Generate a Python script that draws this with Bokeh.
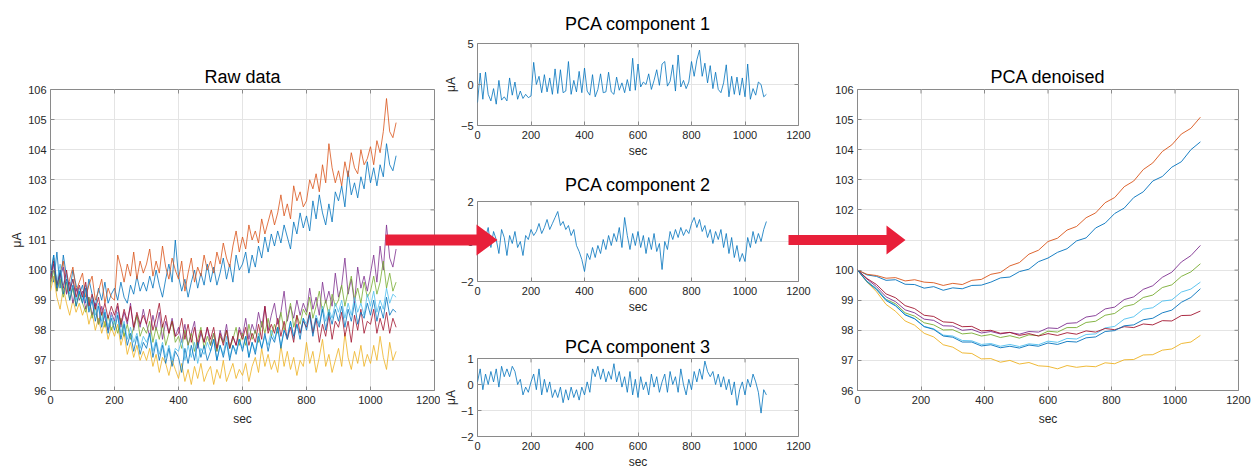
from bokeh.plotting import figure
from bokeh.layouts import row, column
from bokeh.models import FixedTicker, Range1d
from bokeh.embed import file_html
from bokeh.resources import INLINE

# ---------------- data ----------------
t_raw = list(range(0, 1081, 10))      # seconds
t_pca = list(range(0, 1081, 10))
t_den = list(range(0, 1081, 30))
x_ticks = [0, 200, 400, 600, 800, 1000, 1200]
y_ticks_main = [96, 97, 98, 99, 100, 101, 102, 103, 104, 105, 106]

raw_blue1 = [100.2, 99.6, 100.6, 99.4, 100.5, 99.8, 99.3, 100.0, 99.5, 99.2,
             99.5, 98.9, 99.7, 99.2, 98.8, 99.4, 99.0, 99.6, 98.9, 99.2,
             99.4, 99.0, 99.6, 99.1, 98.9, 99.5, 99.2, 99.8, 99.3, 99.6,
             99.3, 99.8, 99.4, 100.0, 99.5, 99.1, 99.7, 100.2, 99.6, 101.0,
             99.8, 99.3, 99.7, 99.1, 99.6, 100.0, 99.4, 99.9, 99.5, 100.2,
             99.6, 100.1, 99.5, 99.9, 100.4, 99.7, 100.2, 99.6, 100.5, 100.0,
             100.2, 100.6, 99.9, 100.5, 100.1, 100.8, 100.4, 101.1, 100.6, 101.2,
             100.8, 101.3, 100.9, 101.5, 101.1, 100.7, 101.6, 101.2, 101.9, 101.4,
             101.8, 101.3, 102.3, 101.7, 102.5, 101.9, 101.5, 102.2, 101.6, 102.6,
             102.3, 102.8, 102.1, 103.3, 102.5, 102.9, 102.4, 103.1, 102.7, 103.6,
             102.9, 103.4, 102.8, 103.5, 103.1, 104.2, 103.5, 103.3, 103.8]
raw_orange = [99.8, 100.4, 99.5, 99.9, 100.3, 99.2, 99.7, 100.1, 99.3, 99.6,
              99.9, 99.1, 99.5, 99.8, 99.0, 99.3, 99.7, 98.9, 99.4, 99.1,
              99.0, 100.5, 100.1, 99.6, 100.2, 99.8, 100.6, 99.7, 100.3, 99.9,
              100.2, 100.7, 99.8, 100.3, 99.9, 100.8, 100.1, 99.7, 100.4, 100.0,
              99.7, 100.3, 99.3, 99.9, 100.4, 99.6, 100.1, 99.8, 100.5, 100.0,
              100.3, 99.9, 100.6, 100.2, 100.9, 100.4, 100.1, 100.8, 101.3, 100.6,
              101.1, 100.7, 101.5, 101.0, 101.3, 100.9, 101.7, 101.2, 101.6, 102.0,
              101.5, 101.9, 102.5, 101.8, 102.2, 101.7, 102.8, 102.3, 102.6, 102.1,
              102.3, 103.0, 102.7, 103.2, 102.6, 103.5, 102.9, 104.2, 103.4, 102.9,
              103.3, 102.8, 103.6, 103.1, 103.9, 103.4, 103.2, 104.0, 103.5, 103.7,
              104.1, 103.5, 104.3, 103.9, 104.6, 105.7, 104.6, 104.4, 104.9]
raw_yellow = [99.3, 99.8, 99.1, 98.7, 99.4, 98.9, 98.5, 99.0, 98.6, 98.9,
              98.5, 98.8, 98.2, 98.6, 98.0, 98.4, 97.9, 98.3, 97.7, 98.1,
              97.8, 98.2, 97.5, 97.9, 97.2, 97.6, 97.1, 97.5, 97.0, 97.3,
              97.0, 97.4, 96.8, 97.2, 96.6, 97.1, 96.9, 96.5, 97.0, 96.7,
              96.4, 96.9, 96.3, 96.7, 96.2, 96.8, 96.4, 96.9, 96.3, 96.6,
              96.8, 96.2, 96.7, 96.4, 97.0, 96.3, 96.6, 96.9, 96.4, 96.7,
              96.5, 96.9, 96.3, 96.8, 97.1, 96.6, 97.4, 96.8, 97.2, 96.7,
              97.0, 96.6, 97.5, 96.8, 97.3, 96.7, 97.1, 96.5, 97.0, 96.8,
              97.6, 96.9, 97.3, 96.6, 97.1, 97.7, 96.8, 97.2, 96.6, 97.0,
              97.4, 96.8, 97.9, 97.1, 96.7, 97.3, 96.9, 97.5, 96.8, 97.2,
              96.9, 97.5, 97.0, 97.8, 97.1, 96.7, 97.6, 97.0, 97.3]
raw_purple = [99.6, 100.2, 99.3, 99.8, 100.1, 99.2, 99.6, 98.9, 99.4, 99.0,
              99.3, 98.7, 99.1, 98.5, 98.9, 98.2, 98.8, 98.4, 98.0, 98.6,
              98.3, 98.8, 98.1, 98.6, 98.2, 98.9, 98.0, 98.5, 98.1, 98.7,
              98.2, 97.8, 98.5, 98.0, 98.6, 97.7, 98.3, 97.9, 98.4, 97.8,
              98.1, 97.6, 98.2, 97.5, 97.9, 98.3, 97.4, 97.9, 97.6, 98.1,
              97.5, 97.9, 97.3, 98.0, 97.6, 98.2, 97.4, 97.8, 97.5, 98.1,
              97.8, 98.4, 97.7, 98.2, 97.9, 98.6, 98.1, 98.8, 98.0, 98.5,
              98.9, 98.2, 98.6, 99.3, 98.3, 98.8, 98.4, 99.0, 98.5, 98.9,
              98.6, 99.4, 98.7, 99.1, 98.5, 99.6, 98.9, 99.3, 98.8, 99.9,
              99.1, 99.5, 100.4, 99.2, 99.7, 98.9, 100.1, 99.4, 99.8, 99.3,
              99.9, 100.5, 99.6, 100.8, 100.0, 101.5, 100.4, 100.1, 100.7]
raw_green = [99.5, 100.0, 99.3, 99.7, 99.1, 99.6, 99.0, 99.4, 98.8, 99.2,
             98.9, 98.6, 99.1, 98.4, 98.8, 98.2, 98.6, 98.1, 98.5, 98.0,
             98.3, 97.9, 98.4, 97.8, 98.2, 97.7, 98.1, 98.5, 97.8, 98.1,
             97.9, 98.3, 97.6, 98.1, 97.7, 98.2, 97.5, 97.9, 98.3, 97.6,
             97.8, 97.4, 98.0, 97.5, 97.9, 97.3, 97.7, 98.1, 97.4, 97.8,
             97.5, 97.9, 97.3, 97.8, 97.6, 98.0, 97.4, 97.7, 98.1, 97.5,
             97.9, 97.5, 98.2, 97.7, 98.0, 97.6, 98.3, 97.9, 98.4, 97.8,
             98.2, 97.9, 98.6, 98.0, 98.4, 98.9, 98.1, 98.5, 98.2, 98.7,
             98.5, 99.1, 98.4, 98.8, 99.3, 98.6, 99.0, 98.5, 99.2, 98.8,
             99.0, 99.5, 98.8, 99.3, 99.8, 99.0, 99.4, 98.9, 99.6, 99.1,
             99.3, 99.8, 99.2, 99.6, 100.3, 99.4, 99.9, 99.3, 99.6]
raw_lightblue = [99.9, 100.5, 99.6, 100.2, 99.5, 99.9, 99.2, 99.7, 99.0, 99.4,
                 99.0, 99.5, 98.7, 99.1, 98.5, 98.9, 98.3, 98.7, 98.1, 98.5,
                 98.2, 98.6, 97.9, 98.3, 97.7, 98.1, 97.6, 97.9, 97.4, 97.8,
                 97.6, 97.9, 97.3, 97.7, 97.2, 97.6, 97.1, 97.5, 97.0, 97.4,
                 97.3, 97.7, 97.0, 97.5, 97.1, 97.6, 96.9, 97.4, 97.2, 97.6,
                 97.3, 97.7, 97.0, 97.5, 97.2, 97.8, 97.1, 97.5, 97.3, 97.7,
                 97.4, 97.8, 97.1, 97.6, 97.3, 97.9, 97.4, 97.8, 97.5, 98.0,
                 97.7, 98.1, 97.5, 98.0, 97.8, 98.3, 97.7, 98.2, 97.9, 98.4,
                 98.2, 98.6, 98.0, 98.5, 98.2, 98.8, 98.3, 98.7, 98.4, 98.9,
                 98.6, 99.0, 98.4, 98.9, 98.5, 99.1, 98.6, 98.9, 98.5, 99.2,
                 98.8, 99.3, 98.6, 99.0, 98.7, 99.4, 98.9, 99.2, 99.1]
raw_darkred = [99.7, 100.3, 99.5, 99.9, 99.4, 100.0, 99.3, 99.7, 99.1, 99.5,
               99.1, 99.6, 98.8, 99.2, 98.7, 99.1, 98.5, 98.9, 98.4, 98.8,
               98.5, 98.9, 98.2, 98.7, 98.3, 98.8, 98.1, 98.6, 98.2, 98.5,
               98.2, 98.7, 98.0, 98.4, 98.9, 98.1, 98.5, 97.9, 98.3, 97.8,
               97.9, 98.4, 97.7, 98.2, 97.6, 98.1, 97.5, 98.0, 97.6, 98.1,
               97.7, 98.1, 97.4, 97.9, 97.5, 98.0, 97.4, 97.8, 97.5, 98.0,
               97.7, 98.1, 97.5, 97.9, 97.6, 98.2, 97.7, 98.8, 97.9, 98.2,
               97.9, 98.4, 97.8, 98.3, 97.7, 98.1, 97.6, 98.5, 97.9, 98.3,
               98.1, 98.6, 97.9, 98.4, 97.6, 98.2, 97.8, 98.5, 97.7, 98.3,
               98.1, 98.6, 97.8, 98.3, 97.6, 98.5, 98.0, 98.7, 97.9, 98.3,
               98.2, 98.7, 97.9, 98.4, 98.0, 98.6, 97.9, 98.4, 98.1]
raw_blue2 = [99.8, 100.5, 99.4, 100.0, 99.2, 99.7, 99.0, 99.5, 98.8, 99.3,
             98.9, 99.4, 98.6, 99.0, 98.3, 98.8, 98.1, 98.6, 97.9, 98.4,
             98.0, 98.5, 97.7, 98.2, 97.5, 97.9, 97.3, 97.8, 97.2, 97.6,
             97.4, 97.9, 97.1, 97.6, 97.0, 97.5, 96.9, 97.4, 96.8, 97.3,
             97.1, 96.6, 97.4, 96.9, 97.5, 97.0, 97.6, 97.1, 97.5, 97.0,
             97.3, 97.7, 97.0, 97.5, 97.1, 97.6, 97.0, 97.5, 97.2, 97.7,
             97.3, 97.8, 97.1, 97.6, 97.2, 97.8, 97.4, 97.9, 97.3, 97.8,
             97.6, 98.1, 97.4, 98.0, 97.7, 98.3, 97.8, 98.2, 97.7, 98.4,
             98.0, 98.5, 97.8, 98.4, 98.1, 98.7, 98.0, 98.6, 98.2, 98.7,
             98.3, 98.8, 98.1, 98.7, 98.3, 98.9, 98.2, 98.6, 98.4, 98.9,
             98.5, 99.0, 98.3, 98.8, 98.4, 99.1, 98.5, 98.7, 98.6]

pca1 = [-2.2, 1.4, -1.8, 1.5, -1.2, -2.0, -0.5, -2.4, 0.5, -1.9,
        -1.5, -2.0, 0.8, -1.3, 0.3, -1.8, -0.8, -1.7, -1.2, -1.6,
        -1.4, 2.7, 0.0, 1.0, -1.0, 1.2, -0.9, 0.8, -1.2, 1.9,
        -1.1, 1.8, -1.0, -0.8, 2.8, -1.2, 0.5, -0.9, 1.6, -1.0,
        2.0, -0.8, -1.3, 1.2, -1.5, -0.6, 1.3, -1.0, -0.9, 1.5,
        -0.9, -1.2, 0.9, -0.7, 0.2, -1.0, 0.6, -0.8, 3.2, -0.7,
        2.5, -0.3, 0.3, 0.0, 1.3, -0.6, 0.5, 1.8, -0.1, 2.5,
        2.8, -0.2, 0.4, 2.4, -0.8, 3.6, -0.3, 0.5, -0.5, 0.3,
        2.8, 1.0, 3.0, 4.2, 1.0, 2.6, 0.2, 2.3, -0.5, 1.5,
        -0.6, -1.0, 0.2, 2.4, -1.5, 1.0, -1.2, 0.9, -1.3, 0.8,
        -1.5, 2.5, -1.8, -0.5, -1.3, 0.3, 0.0, -1.5, -1.2]
pca2 = [-0.6, -0.1, 0.4, 0.2, 0.7, -0.3, 0.5, 0.1, -0.6, 0.6,
        0.2, -0.7, 0.3, -0.1, 0.5, -0.3, 0.0, -0.7, 0.3, 0.1,
        0.6, 0.3, 0.5, 0.9, 0.4, 0.7, 1.1, 0.6, 0.9, 1.2,
        1.5, 0.8, 1.0, 0.6, 0.8, 0.3, 0.6, -0.2, -0.5, -0.9,
        -1.5, -0.6, -0.9, -0.3, -0.8, -0.2, -0.6, 0.1, -0.4, 0.3,
        -0.2, 0.4, 0.0, 0.7, -0.3, 1.2, 0.3, -0.4, 0.4, -0.2,
        0.5, -0.3, 0.3, -0.6, 0.2, -0.4, 0.4, -0.5, -0.1, -1.4,
        0.0, -0.4, 0.5, 0.1, 0.6, 0.2, 0.7, 0.3, 0.6, 0.4,
        0.9, 1.2, 0.7, 1.1, 0.5, 0.8, 0.2, 0.6, -0.1, 0.5,
        0.1, 0.6, -0.3, 0.4, -0.6, 0.2, -0.8, -0.2, -1.0, -0.6,
        -1.0, 0.2, -0.3, 0.5, -0.1, 0.4, 0.0, 0.6, 1.0]
pca3 = [0.1, 0.6, -0.2, 0.4, 0.0, 0.5, 0.1, 0.6, -0.1, 0.7,
        0.3, 0.6, 0.3, 0.7, 0.5, 0.0, 0.2, -0.4, -0.1, -0.3,
        0.1, 0.4, -0.2, 0.6, -0.4, 0.2, -0.3, 0.1, -0.5, -0.2,
        -0.5, -0.1, -0.7, -0.2, -0.6, -0.1, -0.5, -0.2, -0.6, -0.1,
        -0.4, 0.1, -0.3, 0.6, 0.3, 0.7, 0.2, 0.6, 0.1, 0.5,
        0.2, 0.8, 0.1, 0.5, -0.1, 0.3, -0.3, 0.5, -0.4, 0.2,
        -0.5, 0.3, -0.2, 0.1, -0.4, 0.4, -0.1, 0.3, -0.3, 0.1,
        0.4, -0.3, 0.5, 0.0, 0.3, -0.3, 0.6, 0.0, -0.4, 0.2,
        -0.2, 0.5, 0.1, 0.6, 0.2, 0.9, 0.5, 0.3, 0.5, 0.0,
        0.4, -0.1, 0.3, -0.2, 0.2, -0.4, 0.1, -0.8, -0.2, 0.1,
        -0.4, 0.2, -0.1, 0.4, 0.1, -0.3, -1.1, -0.2, -0.4]

den_blue1 = [100.0, 99.84, 99.79, 99.66, 99.68, 99.53, 99.52, 99.4, 99.45, 99.33,
             99.41, 99.38, 99.49, 99.5, 99.6, 99.74, 99.77, 99.95, 100.03, 100.28,
             100.4, 100.59, 100.71, 100.97, 101.07, 101.4, 101.56, 101.88, 102.06, 102.41,
             102.6, 102.96, 103.11, 103.42, 103.6, 104.0, 104.26]
den_orange = [100.0, 99.86, 99.82, 99.73, 99.75, 99.64, 99.68, 99.6, 99.58, 99.49,
              99.56, 99.52, 99.66, 99.69, 99.86, 99.92, 100.14, 100.25, 100.53, 100.66,
              100.95, 101.06, 101.33, 101.45, 101.74, 101.9, 102.24, 102.41, 102.77, 102.96,
              103.34, 103.56, 103.94, 104.16, 104.52, 104.71, 105.08]
den_yellow = [100.0, 99.6, 99.28, 98.86, 98.63, 98.31, 98.17, 97.9, 97.78, 97.52,
              97.44, 97.25, 97.23, 97.05, 97.06, 96.94, 97.0, 96.88, 96.93, 96.82,
              96.8, 96.72, 96.83, 96.77, 96.81, 96.79, 96.92, 96.89, 97.02, 97.03,
              97.18, 97.19, 97.34, 97.38, 97.56, 97.61, 97.83]
den_purple = [100.0, 99.7, 99.45, 99.11, 98.95, 98.68, 98.58, 98.37, 98.33, 98.15,
              98.14, 98.0, 98.03, 97.91, 97.96, 97.88, 97.93, 97.87, 97.96, 97.94,
              98.08, 98.06, 98.23, 98.25, 98.44, 98.49, 98.71, 98.77, 99.02, 99.11,
              99.36, 99.48, 99.76, 99.93, 100.27, 100.48, 100.82]
den_green = [100.0, 99.63, 99.38, 99.03, 98.88, 98.58, 98.47, 98.25, 98.18, 98.01,
             98.02, 97.88, 97.91, 97.81, 97.86, 97.76, 97.82, 97.74, 97.85, 97.82,
             97.97, 97.94, 98.09, 98.09, 98.26, 98.3, 98.5, 98.56, 98.79, 98.86,
             99.09, 99.17, 99.42, 99.51, 99.79, 99.94, 100.21]
den_lightblue = [100.0, 99.63, 99.38, 99.02, 98.83, 98.53, 98.39, 98.13, 98.05, 97.84,
                 97.81, 97.66, 97.65, 97.53, 97.56, 97.47, 97.53, 97.46, 97.55, 97.52,
                 97.64, 97.6, 97.73, 97.71, 97.86, 97.88, 98.08, 98.13, 98.37, 98.45,
                 98.7, 98.75, 98.97, 99.01, 99.27, 99.37, 99.6]
den_darkred = [100.0, 99.72, 99.52, 99.21, 99.08, 98.82, 98.72, 98.5, 98.46, 98.28,
               98.26, 98.12, 98.13, 97.98, 98.0, 97.9, 97.93, 97.83, 97.89, 97.81,
               97.89, 97.83, 97.92, 97.87, 97.98, 97.94, 98.06, 98.02, 98.12, 98.09,
               98.21, 98.18, 98.32, 98.31, 98.49, 98.5, 98.64]
den_blue2 = [100.0, 99.61, 99.35, 98.99, 98.81, 98.51, 98.38, 98.12, 98.03, 97.81,
             97.77, 97.61, 97.61, 97.48, 97.52, 97.42, 97.47, 97.41, 97.51, 97.47,
             97.58, 97.53, 97.63, 97.61, 97.75, 97.78, 97.96, 97.99, 98.15, 98.18,
             98.35, 98.4, 98.58, 98.67, 98.93, 99.09, 99.38]

colors = ["#0072BD", "#D95319", "#EDB120", "#7E2F8E", "#77AC30", "#4DBEEE", "#A2142F", "#0072BD"]
raw_series = [raw_blue1, raw_orange, raw_yellow, raw_purple, raw_green, raw_lightblue, raw_darkred, raw_blue2]
den_series = [den_blue1, den_orange, den_yellow, den_purple, den_green, den_lightblue, den_darkred, den_blue2]

# ---------------- styling ----------------
FONT = "Liberation Sans"
AXC = "#8a8a8a"
TXT = "#262626"
GRID = "#e4e4e4"
RED = "#E8203A"
PAGE_W, PAGE_H = 1255, 471


def style_axis(ax, ticks, label, std, lab_std):
    ax.ticker = FixedTicker(ticks=ticks)
    ax.axis_line_color = None
    ax.major_tick_line_color = AXC
    ax.major_tick_in = 4
    ax.major_tick_out = 0
    ax.minor_tick_line_color = None
    ax.major_label_text_font = FONT
    ax.major_label_text_font_size = "11px"
    ax.major_label_text_color = TXT
    ax.major_label_standoff = std
    if label:
        ax.axis_label = label
    ax.axis_label_text_font = FONT
    ax.axis_label_text_font_size = "12px"
    ax.axis_label_text_font_style = "normal"
    ax.axis_label_text_color = TXT
    ax.axis_label_standoff = lab_std


def make_fig(title, w, h, yr, yticks, bl, br, bt, bb, tstand, xstd, xlab, ylab, ylabel="\u03bcA"):
    fw, fh = w - bl - br, h - bt - bb
    p = figure(width=w, height=h, x_range=Range1d(0, 1200), y_range=Range1d(*yr),
               output_backend="svg", toolbar_location=None, title=title,
               min_border_left=bl, min_border_right=br,
               min_border_top=bt, min_border_bottom=bb)
    p.outline_line_color = AXC
    p.outline_line_width = 1
    p.background_fill_color = "white"
    p.border_fill_color = "white"
    p.title.align = "center"
    p.title.text_font = FONT
    p.title.text_font_size = "18px"
    p.title.text_font_style = "normal"
    p.title.text_color = "#000000"
    p.title.standoff = tstand
    style_axis(p.xaxis[0], x_ticks, "sec", xstd, xlab)
    style_axis(p.yaxis[0], yticks, ylabel, 4, ylab)
    p.xgrid.ticker = FixedTicker(ticks=x_ticks)
    p.ygrid.ticker = FixedTicker(ticks=yticks)
    p.grid.grid_line_color = GRID
    # inward tick marks on the top and right edges of the box (MATLAB style)
    y0, y1 = yr
    dy = (y1 - y0) * 4.0 / fh
    dx = 1200 * 4.0 / fw
    p.segment(x0=x_ticks, y0=[y1] * len(x_ticks), x1=x_ticks, y1=[y1 - dy] * len(x_ticks),
              line_color=AXC, line_width=1)
    p.segment(x0=[1200] * len(yticks), y0=yticks, x1=[1200 - dx] * len(yticks), y1=yticks,
              line_color=AXC, line_width=1)
    return p


# Raw data
p_raw = make_fig("Raw data", 440, 471, (96, 106), y_ticks_main, 50, 6, 89, 81, 6, 5, 5, 1)
for s, c in zip(raw_series, colors):
    p_raw.line(t_raw, s, line_color=c, line_width=0.8)

# PCA components
p1 = make_fig("PCA component 1", 375, 160, (-5, 5), [-5, 0, 5], 37, 17, 43, 33, 20, 5, 2, 0)
p1.line(t_pca, pca1, line_color=colors[0], line_width=0.8)

p2 = make_fig("PCA component 2", 375, 156, (-2, 2), [-2, 0, 2], 37, 17, 41, 33, 14, 5, 2, 0, ylabel=None)
p2.line(t_pca, pca2, line_color=colors[0], line_width=0.8)

p3 = make_fig("PCA component 3", 375, 155, (-2, 1), [-2, -1, 0, 1], 37, 17, 42, 33, 4, 5, 2, 0)
p3.line(t_pca, pca3, line_color=colors[0], line_width=0.8)

# PCA denoised
p_den = make_fig("PCA denoised", 439, 471, (96, 106), y_ticks_main, 42, 16, 89, 81, 6, 5, 5, 1, ylabel=None)
for s, c in zip(den_series, colors):
    p_den.line(t_den, s, line_color=c, line_width=0.9)

# transparent overlay (page pixel coordinates) carrying the two red arrows
arrow1_x = [385, 476, 476, 497, 476, 476, 385]
arrow1_y = [234, 234, 224, 239.5, 255, 245, 245]
arrow2_x = [788, 886, 886, 905, 886, 886, 788]
arrow2_y = [234.5, 234.5, 225, 239.5, 254, 244.5, 244.5]
overlay = figure(width=PAGE_W, height=PAGE_H, x_range=Range1d(0, PAGE_W), y_range=Range1d(PAGE_H, 0),
                 x_axis_type=None, y_axis_type=None, toolbar_location=None,
                 output_backend="svg", min_border=0, outline_line_color=None,
                 background_fill_alpha=0, border_fill_alpha=0,
                 margin=(-PAGE_H, 0, 0, 0))
overlay.patch(arrow1_x, arrow1_y, fill_color=RED, line_color=None)
overlay.patch(arrow2_x, arrow2_y, fill_color=RED, line_color=None)

charts = row(p_raw, column(p1, p2, p3, spacing=0), p_den, spacing=0)
layout = column(charts, overlay, spacing=0)
open("out.html", "w").write(file_html(layout, INLINE))
